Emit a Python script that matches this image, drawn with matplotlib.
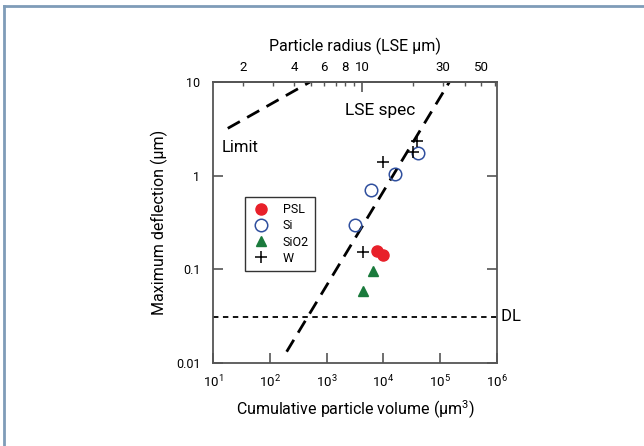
import numpy as np
import matplotlib
matplotlib.use("Agg")
import matplotlib.pyplot as plt
from matplotlib.lines import Line2D
from matplotlib.ticker import FixedLocator, FixedFormatter

plt.rcParams['font.family'] = ['Roboto', 'DejaVu Sans']
plt.rcParams['mathtext.fontset'] = 'custom'
plt.rcParams['mathtext.rm'] = 'Roboto'

# data (volume um^3, deflection um)
psl_v = [7600, 9700]
psl_d = [0.158, 0.142]
si_v = [3160, 5970, 15800, 40200]
si_d = [0.297, 0.697, 1.04, 1.75]
sio2_v = [6470, 4420]
sio2_d = [0.097, 0.058]
w_v = [4380, 9960, 38500, 33700]
w_d = [0.153, 1.41, 2.36, 1.77]

lse_v = [198, 1.45e5]
lse_d = [0.0132, 10]
limit_v = [18.2, 510]
limit_d = [3.2, 10]
dl_level = 0.031

top_major = [10]
top_minor = [2, 3, 4, 5, 6, 7, 8, 9, 20, 30, 40, 50, 60]
top_minor_labels = ['2', '', '4', '', '6', '', '8', '', '', '30', '', '50', '']

fig = plt.figure(figsize=(6.44, 4.46), dpi=100)
ax = fig.add_axes([213/644, 1-363/446, 284/644, 281/446])

# figure frame (top and left)
fc = '#7f9cb8'
fig.add_artist(Line2D([4/644, 1], [1-6/446, 1-6/446], color=fc, lw=2.0, transform=fig.transFigure))
fig.add_artist(Line2D([4/644, 4/644], [0, 1-6/446], color=fc, lw=2.0, transform=fig.transFigure))

ax.set_xscale('log')
ax.set_yscale('log')
ax.set_xlim(10, 1e6)
ax.set_ylim(0.01, 10)

ax.plot(lse_v, lse_d, color='black', lw=2, dashes=(5, 3))
ax.plot(limit_v, limit_d, color='black', lw=2, dashes=(5, 3))
ax.axhline(dl_level, color='black', lw=1.3, dashes=(3, 2.5))

ax.plot(psl_v, psl_d, 'o', color='#e8202a', ms=8, mec='#e8202a', label='PSL', zorder=5)
ax.plot(si_v, si_d, 'o', mfc='none', mec='#2f4f9e', mew=1.1, ms=9, label='Si', zorder=5)
ax.plot(sio2_v, sio2_d, '^', color='#1a7a3c', ms=7, label='SiO2', zorder=5)
ax.plot(w_v, w_d, '+', color='black', ms=9, mew=1.1, label='W', zorder=5)

ax.text(8700, 5.0, 'LSE spec', fontsize=12.5, ha='center', va='center')
ax.text(30, 2.0, 'Limit', fontsize=12, ha='center', va='center')
ax.text(1.0, dl_level, ' DL', fontsize=12, ha='left', va='center',
        transform=ax.get_yaxis_transform())

leg = ax.legend(loc='upper left', bbox_to_anchor=((245-213)/284, (363-197)/281),
                borderaxespad=0, frameon=True, fancybox=False, edgecolor='black',
                fontsize=9, handletextpad=1.0, labelspacing=0.25, borderpad=0.5,
                handlelength=1.5)
leg.get_frame().set_linewidth(1.0)

sc = '#555555'
for s in ['left', 'bottom', 'right', 'top']:
    ax.spines[s].set_color(sc)
    ax.spines[s].set_linewidth(1.3)

ax.set_xticks([1e1, 1e2, 1e3, 1e4, 1e5, 1e6])
ax.set_xticklabels(['$10^{1}$', '$10^{2}$', '$10^{3}$', '$10^{4}$', '$10^{5}$', '$10^{6}$'])
ax.xaxis.set_minor_locator(FixedLocator([]))
ax.set_yticks([0.01, 0.1, 1, 10])
ax.set_yticklabels(['0.01', '0.1', '1', '10'])
ax.yaxis.set_minor_locator(FixedLocator([]))
ax.tick_params(axis='x', which='major', direction='in', length=7, width=1.2, color=sc,
               labelsize=9.5, pad=8)
ax.tick_params(axis='y', which='major', direction='in', length=7, width=1.2, color=sc,
               labelsize=9, pad=9, right=True)

def v2r(v):
    v = np.asarray(v, dtype=float)
    return np.cbrt(3 * np.clip(v, 1e-30, None) / (4 * np.pi))

def r2v(r):
    r = np.asarray(r, dtype=float)
    return 4/3 * np.pi * r**3

top = ax.secondary_xaxis('top', functions=(v2r, r2v))
top.set_xscale('log')
top.xaxis.set_major_locator(FixedLocator(top_major))
top.xaxis.set_major_formatter(FixedFormatter(['10']))
top.xaxis.set_minor_locator(FixedLocator(top_minor))
top.xaxis.set_minor_formatter(FixedFormatter(top_minor_labels))
top.tick_params(which='major', direction='in', length=7, width=1.2, color=sc, labelsize=9.5, pad=6)
top.tick_params(which='minor', direction='in', length=3, width=1.0, color=sc, labelsize=9.5, pad=6)
top.spines['top'].set_color(sc)
top.spines['top'].set_linewidth(1.3)
top.set_xlabel('Particle radius (LSE μm)', fontsize=11.5, labelpad=7)

ax.set_xlabel('Cumulative particle volume (μm$^3$)', fontsize=11.5, labelpad=6)
ax.set_ylabel('Maximum deflection (μm)', fontsize=11.5, labelpad=6)

fig.savefig('out.png', dpi=100)
